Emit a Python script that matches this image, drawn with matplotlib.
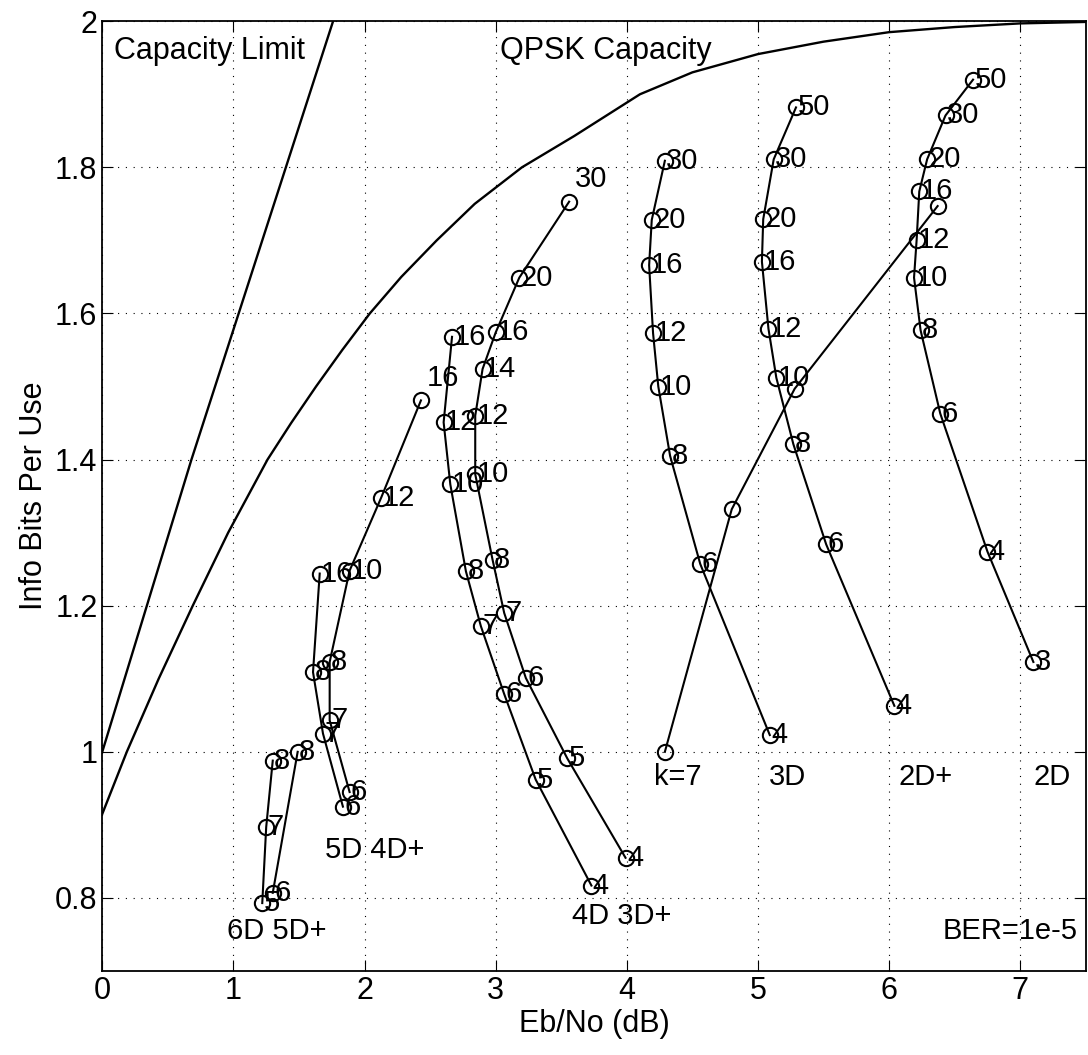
import numpy as np
import matplotlib.pyplot as plt

plt.rcParams['font.family'] = ['Liberation Sans', 'DejaVu Sans']

# capacity curves
cap_x = [0.0, 0.34, 0.68, 1.04, 1.40, 1.76]
cap_y = [1.0, 1.2, 1.4, 1.6, 1.8, 2.0]
qpsk_x = [0.0, 0.187, 0.43, 0.69, 0.96, 1.26, 1.44, 1.63, 1.83, 2.04, 2.28, 2.55, 2.84,
          3.2, 3.6, 4.1, 4.5, 5.0, 5.5, 6.0, 6.5, 7.0, 7.5]
qpsk_y = [0.915, 1.0, 1.1, 1.2, 1.3, 1.4, 1.45, 1.5, 1.55, 1.6, 1.65, 1.7, 1.75,
          1.8, 1.843, 1.9, 1.93, 1.955, 1.972, 1.985, 1.992, 1.997, 1.999]

# code curves: x = Eb/No (dB), y = info bits per use, lab = point labels
d6_x = [1.30, 1.25, 1.22]
d6_y = [0.988, 0.897, 0.793]
d6_lab = ['8', '7', '5']
d5p_x = [1.49, 1.30]
d5p_y = [1.0, 0.807]
d5p_lab = ['8', '6']

d5_x = [1.658, 1.607, 1.683, 1.835]
d5_y = [1.244, 1.109, 1.025, 0.925]
d5_lab = ['16', '8', '7', '6']
d4p_x = [2.43, 2.127, 1.886, 1.734, 1.734, 1.886]
d4p_y = [1.481, 1.348, 1.248, 1.123, 1.043, 0.945]
d4p_lab = ['16', '12', '10', '8', '7', '6']

d4_x = [2.667, 2.603, 2.654, 2.773, 2.887, 3.065, 3.305, 3.73]
d4_y = [1.568, 1.451, 1.366, 1.247, 1.172, 1.079, 0.962, 0.817]
d4_lab = ['16', '12', '10', '8', '7', '6', '5', '4']
d3p_x = [3.56, 3.18, 3.00, 2.90, 2.844, 2.844, 2.976, 3.065, 3.23, 3.546, 3.99]
d3p_y = [1.753, 1.649, 1.574, 1.524, 1.460, 1.380, 1.263, 1.190, 1.101, 0.991, 0.855]
d3p_lab = ['30', '20', '16', '14', '12', '10', '8', '7', '6', '5', '4']

d3_x = [4.29, 4.19, 4.17, 4.20, 4.24, 4.33, 4.56, 5.09]
d3_y = [1.809, 1.728, 1.666, 1.573, 1.500, 1.405, 1.257, 1.023]
d3_lab = ['30', '20', '16', '12', '10', '8', '6', '4']
d2p_x = [5.29, 5.12, 5.04, 5.03, 5.08, 5.14, 5.27, 5.52, 6.04]
d2p_y = [1.882, 1.811, 1.729, 1.671, 1.579, 1.512, 1.421, 1.284, 1.063]
d2p_lab = ['50', '30', '20', '16', '12', '10', '8', '6', '4']
d2_x = [6.64, 6.43, 6.29, 6.23, 6.21, 6.19, 6.24, 6.39, 6.75, 7.10]
d2_y = [1.920, 1.871, 1.811, 1.767, 1.701, 1.649, 1.577, 1.463, 1.274, 1.123]
d2_lab = ['50', '30', '20', '16', '12', '10', '8', '6', '4', '3']

k7_x = [4.29, 4.80, 5.28, 6.37]
k7_y = [1.0, 1.332, 1.497, 1.747]

fig = plt.figure(figsize=(10.88, 10.55), dpi=100)
ax = fig.add_axes([0.094, 0.0796, 0.904, 0.9003])

ax.plot(cap_x, cap_y, 'k-', lw=1.7)
ax.plot(qpsk_x, qpsk_y, 'k-', lw=1.7)

fs = 21
mk = dict(marker='o', ms=11, mfc='none', mec='k', mew=1.5)
# labels that sit above the marker instead of beside it
raised = {('d4p', '16'), ('d3p', '30')}
series = [('d6', d6_x, d6_y, d6_lab), ('d5p', d5p_x, d5p_y, d5p_lab),
          ('d5', d5_x, d5_y, d5_lab), ('d4p', d4p_x, d4p_y, d4p_lab),
          ('d4', d4_x, d4_y, d4_lab), ('d3p', d3p_x, d3p_y, d3p_lab),
          ('d3', d3_x, d3_y, d3_lab), ('d2p', d2p_x, d2p_y, d2p_lab),
          ('d2', d2_x, d2_y, d2_lab)]
for name, xs, ys, labs in series:
    ax.plot(xs, ys, 'k-', lw=1.5, **mk)
    for x, y, s in zip(xs, ys, labs):
        off = (4, 16) if (name, s) in raised else (1, 0)
        ax.annotate(s, (x, y), xytext=off, textcoords='offset points',
                    ha='left', va='center', fontsize=fs)
ax.plot(k7_x, k7_y, 'k-', lw=1.5, **mk)

ax.text(0.086, 1.959, 'Capacity Limit', fontsize=22, va='center')
ax.text(3.03, 1.959, 'QPSK Capacity', fontsize=22, va='center')
ax.text(4.21, 0.965, 'k=7', fontsize=fs, va='center')
ax.text(5.08, 0.965, '3D', fontsize=fs, va='center')
ax.text(6.07, 0.965, '2D+', fontsize=fs, va='center')
ax.text(7.10, 0.965, '2D', fontsize=fs, va='center')
ax.text(1.70, 0.865, '5D 4D+', fontsize=fs, va='center')
ax.text(3.58, 0.775, '4D 3D+', fontsize=fs, va='center')
ax.text(0.95, 0.755, '6D 5D+', fontsize=fs, va='center')
ax.text(7.44, 0.755, 'BER=1e-5', fontsize=fs, va='center', ha='right')

ax.set_xlim(0, 7.5)
ax.set_ylim(0.7, 2.0)
ax.set_xticks([0, 1, 2, 3, 4, 5, 6, 7])
ax.set_yticks([0.8, 1.0, 1.2, 1.4, 1.6, 1.8, 2.0])
ax.set_yticklabels(['0.8', '1', '1.2', '1.4', '1.6', '1.8', '2'])
ax.tick_params(direction='in', labelsize=22, length=8, top=True, right=True)
ax.grid(True, ls=(0, (1, 6)), color='k', lw=0.8)
for sp in ax.spines.values():
    sp.set_linewidth(1.3)
ax.set_xlabel('Eb/No (dB)', fontsize=22, labelpad=2)
ax.set_ylabel('Info Bits Per Use', fontsize=22, labelpad=4)

fig.savefig('out.png', dpi=100)
